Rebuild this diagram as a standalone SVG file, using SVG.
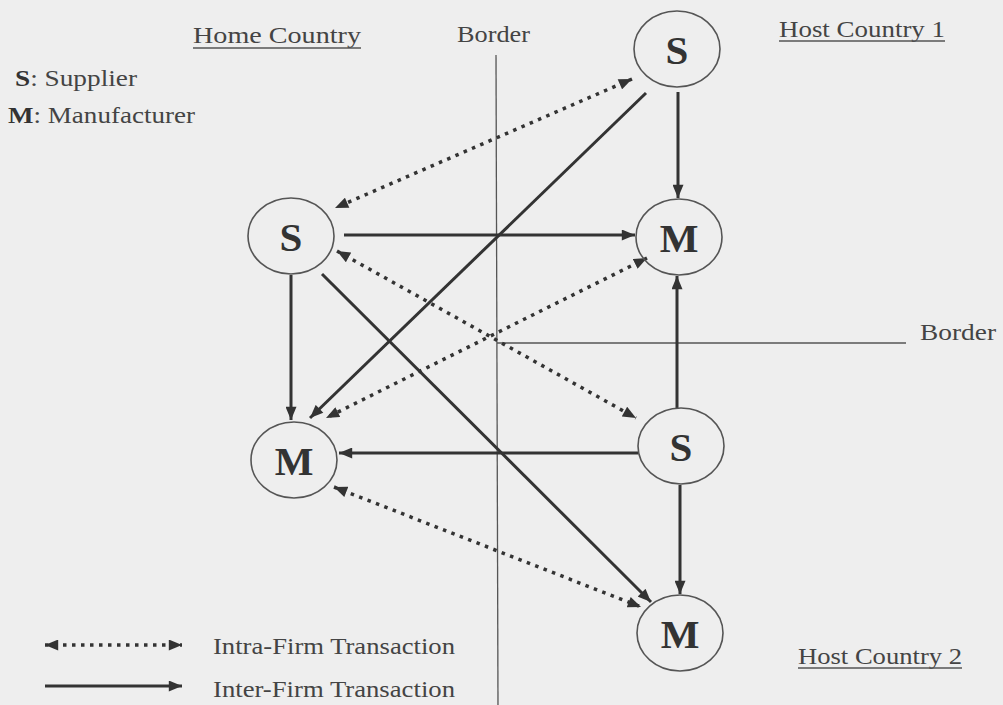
<svg xmlns="http://www.w3.org/2000/svg" width="1003" height="705" viewBox="0 0 1003 705">
<style>
.bg{fill:#eeeeee}
.lbl{font-family:"Liberation Serif","Times New Roman",serif;font-size:23px;fill:#444}
.nl{font-family:"Liberation Serif","Times New Roman",serif;font-size:41px;font-weight:bold;fill:#333;text-anchor:middle}
.node{fill:none;stroke:#555;stroke-width:1.6}
.solid{stroke:#333;stroke-width:3;fill:none}
.dot{stroke:#333;stroke-width:3.5;fill:none;stroke-dasharray:3.5 5.5}
.border{stroke:#555;stroke-width:1.3}
.ul{stroke:#555;stroke-width:1.3}
</style>
<defs>
<marker id="ah" viewBox="0 0 12 10" refX="12" refY="5" markerWidth="14" markerHeight="11" markerUnits="userSpaceOnUse" orient="auto-start-reverse">
<path d="M0,0 L12,5 L0,10 z" fill="#333"/>
</marker>
</defs>
<rect class="bg" x="0" y="0" width="1003" height="705"/>

<g id="borders">
<line class="border" x1="496" y1="55" x2="498" y2="705"/>
<line class="border" x1="497" y1="343" x2="906" y2="343"/>
</g>

<g id="labels">
<text class="lbl" x="193" y="43" textLength="168" lengthAdjust="spacingAndGlyphs">Home Country</text>
<line class="ul" x1="193" y1="48" x2="361" y2="48"/>
<text class="lbl" x="457" y="42" textLength="73" lengthAdjust="spacingAndGlyphs">Border</text>
<text class="lbl" x="779" y="37" textLength="166" lengthAdjust="spacingAndGlyphs">Host Country 1</text>
<line class="ul" x1="779" y1="41" x2="945" y2="41"/>
<text class="lbl" x="15" y="86" textLength="122" lengthAdjust="spacingAndGlyphs"><tspan font-weight="bold" fill="#333">S</tspan>: Supplier</text>
<text class="lbl" x="8" y="123" textLength="187" lengthAdjust="spacingAndGlyphs"><tspan font-weight="bold" fill="#333">M</tspan>: Manufacturer</text>
<text class="lbl" x="920" y="340" textLength="76" lengthAdjust="spacingAndGlyphs">Border</text>
<text class="lbl" x="798" y="664" textLength="164" lengthAdjust="spacingAndGlyphs">Host Country 2</text>
<line class="ul" x1="798" y1="668" x2="962" y2="668"/>
</g>

<g id="legend">
<line class="dot" x1="45" y1="645" x2="182" y2="645" marker-start="url(#ah)" marker-end="url(#ah)"/>
<line class="solid" x1="45" y1="686" x2="182" y2="686" marker-end="url(#ah)"/>
<text class="lbl" x="213" y="654" textLength="242" lengthAdjust="spacingAndGlyphs">Intra-Firm Transaction</text>
<text class="lbl" x="213" y="697" textLength="242" lengthAdjust="spacingAndGlyphs">Inter-Firm Transaction</text>
</g>

<g id="connectors">
<line class="solid" x1="678" y1="92" x2="678" y2="198" marker-end="url(#ah)"/>
<line class="solid" x1="646" y1="93" x2="310" y2="418" marker-end="url(#ah)"/>
<line class="solid" x1="344" y1="235" x2="635" y2="235" marker-end="url(#ah)"/>
<line class="solid" x1="291" y1="275" x2="291" y2="420" marker-end="url(#ah)"/>
<line class="solid" x1="322" y1="274" x2="651" y2="602" marker-end="url(#ah)"/>
<line class="solid" x1="638" y1="453" x2="339" y2="453" marker-end="url(#ah)"/>
<line class="solid" x1="677" y1="408" x2="677" y2="276" marker-end="url(#ah)"/>
<line class="solid" x1="680" y1="485" x2="680" y2="594" marker-end="url(#ah)"/>
<line class="dot" x1="632" y1="79" x2="335" y2="208" marker-start="url(#ah)" marker-end="url(#ah)"/>
<line class="dot" x1="337" y1="251" x2="636" y2="418" marker-start="url(#ah)" marker-end="url(#ah)"/>
<line class="dot" x1="647" y1="258" x2="326" y2="418" marker-start="url(#ah)" marker-end="url(#ah)"/>
<line class="dot" x1="334" y1="487" x2="641" y2="607" marker-start="url(#ah)" marker-end="url(#ah)"/>
</g>

<g id="node-s-host1">
<ellipse class="node" cx="677" cy="49" rx="43" ry="38"/>
<text class="nl" x="677" y="64">S</text>
</g>
<g id="node-m-host1">
<ellipse class="node" cx="679" cy="237" rx="43" ry="38"/>
<text class="nl" x="679" y="252">M</text>
</g>
<g id="node-s-home">
<ellipse class="node" cx="291" cy="236" rx="43" ry="38"/>
<text class="nl" x="291" y="251">S</text>
</g>
<g id="node-m-home">
<ellipse class="node" cx="294" cy="460" rx="43" ry="38"/>
<text class="nl" x="294" y="475">M</text>
</g>
<g id="node-s-host2">
<ellipse class="node" cx="681" cy="446" rx="43" ry="38"/>
<text class="nl" x="681" y="461">S</text>
</g>
<g id="node-m-host2">
<ellipse class="node" cx="680" cy="633" rx="43" ry="38"/>
<text class="nl" x="680" y="648">M</text>
</g>
</svg>
